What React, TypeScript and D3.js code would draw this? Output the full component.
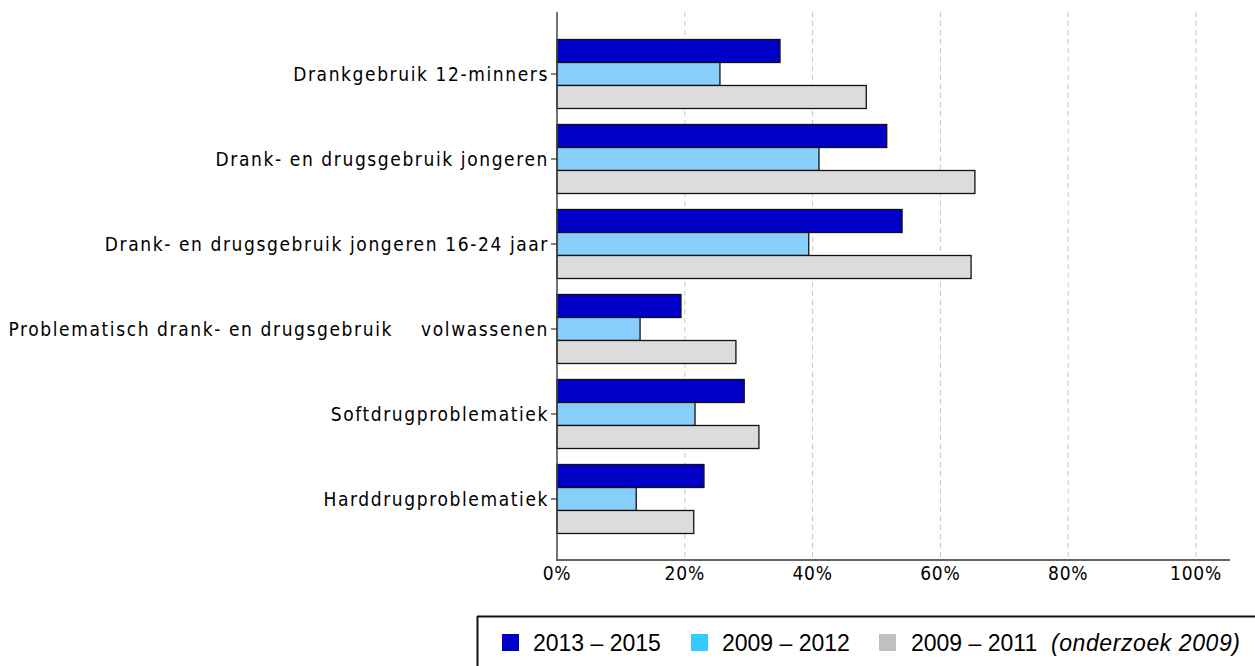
import React from "react";
import * as d3 from "d3";

const categories = [
  "Drankgebruik 12-minners",
  "Drank- en drugsgebruik jongeren",
  "Drank- en drugsgebruik jongeren 16-24 jaar",
  "Problematisch drank- en drugsgebruik    volwassenen",
  "Softdrugproblematiek",
  "Harddrugproblematiek",
];
const seriesNames = ["2013 – 2015", "2009 – 2012", "2009 – 2011"];
const values2013_2015 = [34.9, 51.6, 54.0, 19.4, 29.3, 23.0];
const values2009_2012 = [25.5, 41.0, 39.4, 13.0, 21.6, 12.4];
const values2009_2011 = [48.4, 65.4, 64.8, 28.0, 31.6, 21.4];
const xTicks = [0, 20, 40, 60, 80, 100];

const barColors = ["#0000C8", "#87CEFA", "#DCDCDC"];
const legendColors = ["#0000C8", "#33CCFF", "#C0C0C0"];

export default function App() {
  const W = 1255, H = 666;
  const x = d3.scaleLinear().domain([0, 100]).range([557, 1196]);
  const y = d3.scaleBand<string>().domain(categories).range([31.5, 541.5]).padding(0);
  const inner = d3.scaleBand<number>().domain([0, 1, 2]).range([0, 69]).padding(0);
  const series = [values2013_2015, values2009_2012, values2009_2011];
  const labelFont = "'DejaVu Sans Condensed', 'DejaVu Sans', sans-serif";
  const legendPos = [
    { sx: 502, tx: 533 },
    { sx: 691, tx: 722 },
    { sx: 879, tx: 911 },
  ];

  return (
    <svg width={W} height={H} style={{ position: "absolute", left: 0, top: 0 }}>
      {/* gridlines */}
      {xTicks.slice(1).map((t) => (
        <line key={t} x1={x(t)} x2={x(t)} y1={12} y2={560} stroke="#c8c8c8" strokeWidth={1} strokeDasharray="5,4" />
      ))}
      {/* bars */}
      {categories.map((c, i) => {
        const y0 = (y(c) as number) + (y.bandwidth() - 69) / 2;
        return series.map((s, j) => (
          <rect
            key={c + j}
            x={x(0)}
            y={y0 + (inner(j) as number)}
            width={x(s[i]) - x(0)}
            height={inner.bandwidth()}
            fill={barColors[j]}
            stroke="#111"
            strokeWidth={1.3}
          />
        ));
      })}
      {/* y axis */}
      <line x1={557} x2={557} y1={12} y2={560} stroke="#444" strokeWidth={1.5} />
      {categories.map((c) => {
        const cy = (y(c) as number) + y.bandwidth() / 2;
        return (
          <g key={c}>
            <line x1={551} x2={557} y1={cy} y2={cy} stroke="#333" strokeWidth={1.2} />
            <text
              x={549}
              y={cy}
              dy="0.35em"
              textAnchor="end"
              fontFamily={labelFont}
              fontSize={19}
              letterSpacing={1.6}
              fill="#000"
              style={{ whiteSpace: "pre" }}
            >
              {c}
            </text>
          </g>
        );
      })}
      {/* x axis */}
      <line x1={556} x2={1230} y1={560} y2={560} stroke="#666" strokeWidth={2} />
      {xTicks.map((t) => (
        <text
          key={t}
          x={x(t)}
          y={580}
          textAnchor="middle"
          fontFamily={labelFont}
          fontSize={19}
          letterSpacing={0.8}
          fill="#000"
        >
          {t + "%"}
        </text>
      ))}
      {/* legend */}
      <line x1={477} x2={1255} y1={616.5} y2={616.5} stroke="#111" strokeWidth={2} />
      <line x1={477.5} x2={477.5} y1={616} y2={666} stroke="#111" strokeWidth={2} />
      {legendPos.map((p, i) => (
        <g key={i}>
          <rect x={p.sx} y={634} width={17} height={17} fill={legendColors[i]} />
          <text
            x={p.tx}
            y={651}
            fontFamily="'Liberation Sans', Arial, sans-serif"
            fontSize={23}
            fill="#000"
          >
            {seriesNames[i]}
          </text>
        </g>
      ))}
      <text
        x={1051}
        y={651}
        fontFamily="'Liberation Sans', Arial, sans-serif"
        fontSize={23}
        fontStyle="italic"
        fill="#000"
        textLength={189}
        lengthAdjust="spacing"
      >
        (onderzoek 2009)
      </text>
    </svg>
  );
}
